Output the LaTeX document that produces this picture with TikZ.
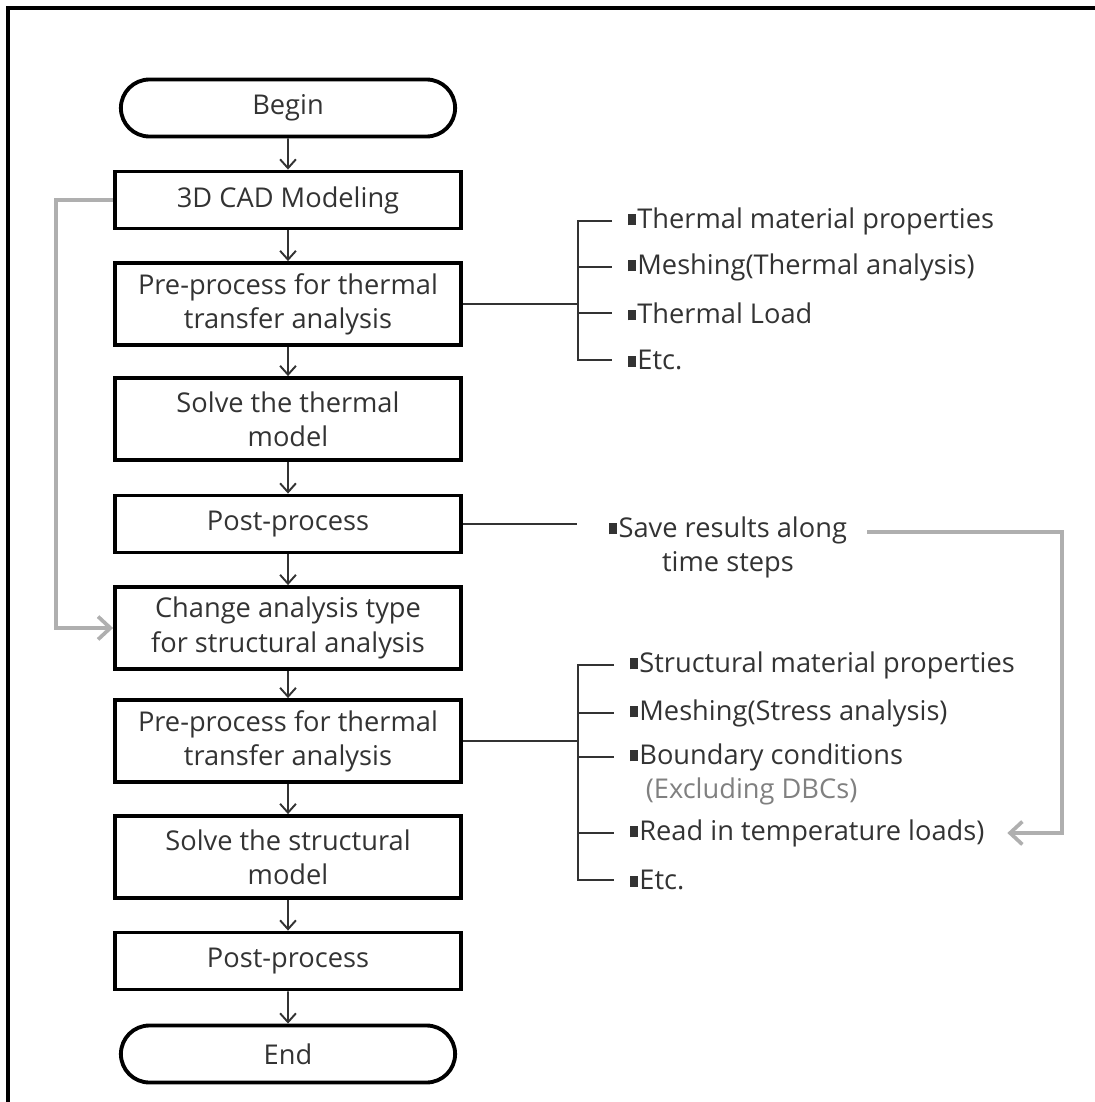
\documentclass[tikz,border=0pt]{standalone}
\usepackage{fontspec}
\setmainfont{Open Sans}
\usetikzlibrary{arrows.meta, positioning, shapes.misc}
\definecolor{txt}{HTML}{333333}
\definecolor{lgray}{HTML}{AFAFAF}
\newcommand{\sq}{\rule[0.1em]{0.3em}{0.4em}\kern0.05em}
\tikzset{
  proc/.style={draw, line width=2.2pt, minimum width=6.92cm, minimum height=1.14cm,
    align=center, text=txt, font=\fontsize{15.5}{19.5}\selectfont},
  proctwo/.style={proc, minimum height=1.64cm},
  term/.style={proc, rounded rectangle},
  flow/.style={-{Straight Barb[length=5pt,width=9pt]}, line width=1.1pt, draw=txt},
  brk/.style={line width=1.1pt, draw=txt},
  back/.style={-{Straight Barb[length=7pt,width=13pt]}, line width=2.1pt, draw=lgray},
  item/.style={anchor=west, inner xsep=0.31cm, inner ysep=0pt, text=txt,
    font=\fontsize{15.5}{19.5}\selectfont}
}
\begin{document}
\begin{tikzpicture}[x=0.02cm, y=-0.02cm]
  \useasboundingbox (0,0) rectangle (1095,1102);
  %cornice
  \draw[line width=1.8pt] (8,1102) -- (8,8) -- (1095,8);
  %colonna principale
  \node[term] (begin) at (288,108) {Begin};
  \node[proc] (cad) at (288,200) {3D CAD Modeling};
  \node[proctwo] (preA) at (288,304) {Pre-process for thermal\\transfer analysis};
  \node[proctwo] (solA) at (288,419) {Solve the thermal\\model};
  \node[proc] (postA) at (288,524) {Post-process};
  \node[proctwo] (chg) at (288,628) {Change analysis type\\for structural analysis};
  \node[proctwo] (preB) at (288,741) {Pre-process for thermal\\transfer analysis};
  \node[proctwo] (solB) at (288,857) {Solve the structural\\model};
  \node[proc] (postB) at (288,961) {Post-process};
  \node[term] (end) at (288,1054) {End};
  \foreach \a/\b in {begin/cad, cad/preA, preA/solA, solA/postA, postA/chg,
                     chg/preB, preB/solB, solB/postB, postB/end}
    \draw[flow] (\a) -- (\b);
  %ritorno grigio a sinistra
  \draw[back] (cad.west) -- ++(-57,0) |- (chg.west);
  %elenco termico
  \coordinate (spA) at (578,0);
  \node[item] (tA1) at (612,221) {\sq Thermal material properties};
  \node[item] (tA2) at (612,267) {\sq Meshing(Thermal analysis)};
  \node[item] (tA3) at (612,313) {\sq Thermal Load};
  \node[item] (tA4) at (612,360) {\sq Etc.};
  \draw[brk] (preA.east) -- (preA.east -| spA);
  \draw[brk] (tA1.west) -- (tA1.west -| spA) -- (tA4.west -| spA) -- (tA4.west);
  \foreach \n in {tA2, tA3}
    \draw[brk] (\n.west -| spA) -- (\n.west);
  %risultati
  \node[item, anchor=north, align=center] (save) at (728,516) {\sq Save results along\\time steps};
  \draw[brk] (postA.east) -- ++(114,0);
  %elenco strutturale
  \coordinate (spB) at (578,0);
  \node[item] (tB1) at (614,665) {\sq Structural material properties};
  \node[item] (tB2) at (614,713) {\sq Meshing(Stress analysis)};
  \node[item] (tB3) at (614,757) {\sq Boundary conditions};
  \node[item, text=gray] (tB3x) at (630,791) {(Excluding DBCs)};
  \node[item] (tB4) at (614,833) {\sq Read in temperature loads)};
  \node[item] (tB5) at (614,880) {\sq Etc.};
  \draw[brk] (preB.east) -- (preB.east -| spB);
  \draw[brk] (tB1.west) -- (tB1.west -| spB) -- (tB5.west -| spB) -- (tB5.west);
  \foreach \n in {tB2, tB3, tB4}
    \draw[brk] (\n.west -| spB) -- (\n.west);
  %ritorno grigio a destra
  \coordinate (sv) at (867,532);
  \coordinate (gx) at (1062,0);
  \draw[back] (sv) -- (sv -| gx) |- ([xshift=4pt]tB4.east);
\end{tikzpicture}
\end{document}
